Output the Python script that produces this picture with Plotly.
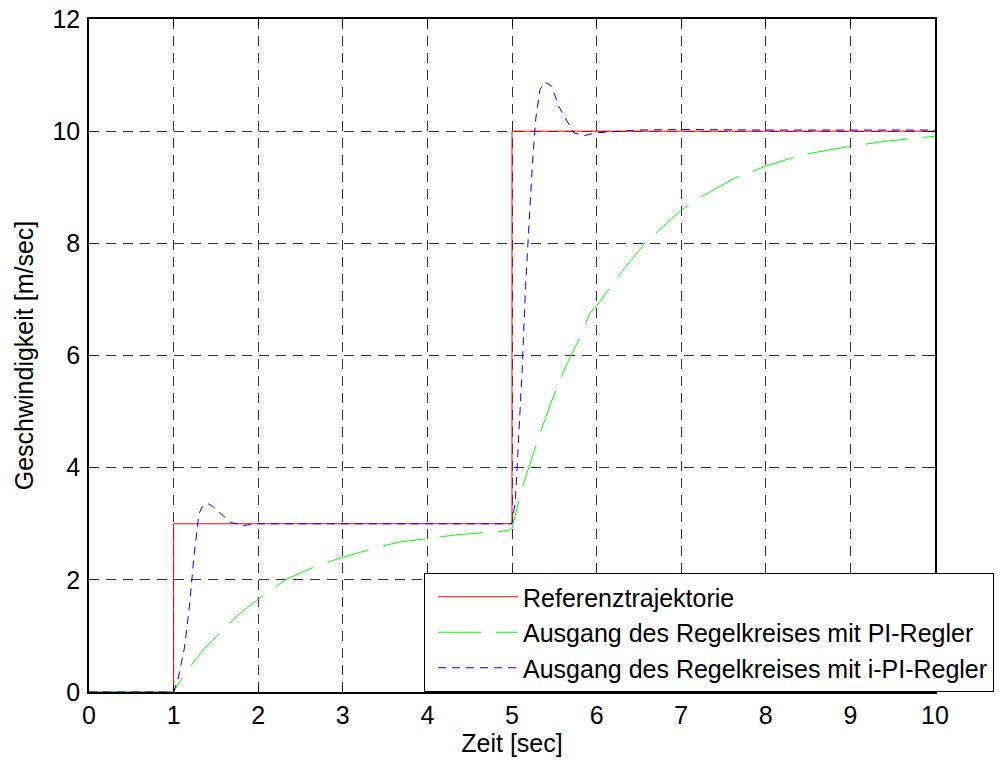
import plotly.graph_objects as go

# Reference trajectory (step profile)
t_ref = [0, 1, 1, 5, 5, 10]
v_ref = [0, 0, 3, 3, 10, 10]

# Closed loop with PI controller
t_pi = [0, 1.0, 1.13, 1.26, 1.36, 1.6, 1.76, 1.98, 2.15, 2.32, 2.54, 2.76, 3.0,
        3.34, 3.65, 4.0, 4.33, 4.82, 4.96, 5.0, 5.115, 5.17, 5.33, 5.46, 5.59,
        5.69, 5.81, 5.92, 6.04, 6.22, 6.57, 7.0, 7.25, 7.64, 8.0, 8.43, 9.0,
        9.42, 10.0]
v_pi = [0, 0.0, 0.33, 0.57, 0.77, 1.13, 1.37, 1.63, 1.82, 2.0, 2.15, 2.29, 2.40,
        2.55, 2.67, 2.73, 2.80, 2.86, 2.88, 2.92, 3.6, 3.87, 4.61, 5.15, 5.65,
        5.98, 6.34, 6.75, 6.96, 7.35, 8.0, 8.59, 8.84, 9.17, 9.375, 9.58, 9.73,
        9.82, 9.91]

# Closed loop with intelligent PI controller
t_ipi = [0, 1.0, 1.05, 1.13, 1.19, 1.24, 1.30, 1.34, 1.38, 1.42, 1.46, 1.56, 1.68,
         1.83, 1.98, 3.0, 4.0, 5.0, 5.04, 5.08, 5.12, 5.16, 5.20, 5.24, 5.28,
         5.33, 5.39, 5.47, 5.55, 5.65, 5.73, 5.85, 5.99, 6.5, 7.0, 8.0, 9.0, 10.0]
v_ipi = [0, 0.0, 0.21, 0.80, 1.57, 2.41, 3.18, 3.31, 3.36, 3.35, 3.31, 3.18, 3.02,
         2.97, 3.0, 3.0, 3.0, 3.0, 3.42, 4.55, 5.74, 7.23, 8.42, 9.38, 10.21,
         10.74, 10.875, 10.80, 10.45, 10.18, 9.97, 9.92, 9.97, 10.02, 10.03,
         10.02, 10.02, 10.02]

x_ticks = list(range(0, 11))
y_ticks = [0, 2, 4, 6, 8, 10, 12]

FONT = "Liberation Sans, Arial, sans-serif"
FS = 25

fig = go.Figure()
fig.add_trace(go.Scatter(x=t_ref, y=v_ref, mode="lines", name="Referenztrajektorie",
                         legendgroup="a",
                         line=dict(color="#FF0000", width=1)))
fig.add_trace(go.Scatter(x=t_pi, y=v_pi, mode="lines",
                         name="Ausgang des Regelkreises mit PI-Regler",
                         legendgroup="b",
                         line=dict(color="#00FF00", width=1, dash="43px,15px")))
fig.add_trace(go.Scatter(x=t_ipi, y=v_ipi, mode="lines",
                         name="Ausgang des Regelkreises mit i-PI-Regler",
                         legendgroup="c",
                         line=dict(color="#0000FF", width=1, dash="8px,6px")))

axis_common = dict(
    showline=True, linecolor="black", linewidth=1.5, mirror="ticks",
    ticks="inside", ticklen=7, tickcolor="black", tickwidth=1,
    showgrid=True, gridcolor="#333333", gridwidth=1, griddash="10px,7px",
    zeroline=False, automargin=False,
    tickfont=dict(family=FONT, size=FS, color="black"),
)

fig.update_xaxes(range=[0, 10], tickvals=x_ticks, ticklabelstandoff=0,
                 title=dict(text="Zeit [sec]", font=dict(family=FONT, size=FS, color="black"),
                            standoff=2),
                 **axis_common)
fig.update_yaxes(range=[0, 12], tickvals=y_ticks, ticklabelstandoff=2,
                 title=dict(text="Geschwindigkeit [m/sec]",
                            font=dict(family=FONT, size=FS, color="black"), standoff=12),
                 **axis_common)

fig.update_layout(
    width=1003, height=760,
    margin=dict(l=89, r=68, t=19, b=68, pad=0, autoexpand=False),
    paper_bgcolor="white", plot_bgcolor="white",
    font=dict(family=FONT, size=FS, color="black"),
    legend=dict(x=0.396, y=0, xanchor="left", yanchor="bottom",
                bgcolor="white", bordercolor="black", borderwidth=1,
                font=dict(family=FONT, size=FS, color="black"),
                tracegroupgap=0, itemwidth=80, indentation=8),
)

fig.write_html("out.html")
